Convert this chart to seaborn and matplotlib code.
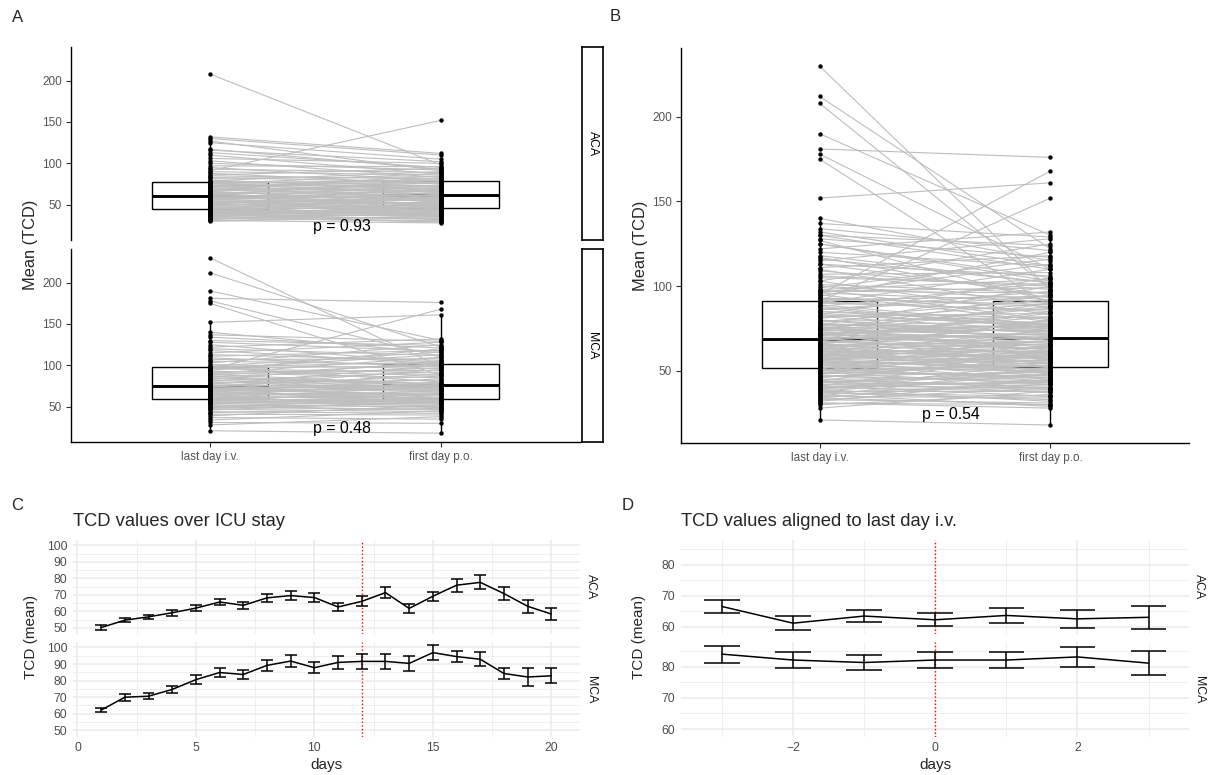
import matplotlib
matplotlib.use("Agg")
import numpy as np
import pandas as pd
import matplotlib.pyplot as plt
import seaborn as sns

sns.set_theme(style="white")
plt.rcParams["font.family"] = ["Liberation Sans", "DejaVu Sans"]

# ---------------------------------------------------------------- data
timepoints = ["last day i.v.", "first day p.o."]
arteries = ["ACA", "MCA"]

# paired TCD means per patient (same index = same patient)
aca_iv = [30, 31, 32, 33, 33, 34, 35, 35, 36, 37,
          37, 38, 38, 39, 39, 40, 40, 41, 41, 42,
          42, 43, 43, 44, 44, 45, 45, 46, 47, 47,
          48, 49, 50, 50, 51, 52, 52, 53, 54, 54,
          55, 56, 56, 57, 57, 58, 58, 59, 59, 60,
          60, 61, 62, 62, 63, 64, 64, 65, 66, 66,
          67, 68, 69, 69, 70, 71, 72, 72, 73, 74,
          75, 75, 76, 77, 77, 78, 79, 80, 82, 83,
          85, 86, 88, 90, 91, 93, 95, 97, 100, 103,
          106, 110, 113, 116, 117, 125, 127, 130, 132, 208]
aca_po = [36, 28, 45, 31, 40, 30, 52, 34, 29, 42,
          33, 48, 38, 55, 32, 44, 38, 60, 35, 43,
          39, 50, 41, 37, 62, 46, 40, 57, 49, 43,
          65, 42, 53, 46, 71, 44, 59, 51, 45, 56,
          47, 68, 52, 61, 49, 74, 55, 58, 62, 50,
          64, 59, 80, 57, 66, 48, 70, 61, 77, 54,
          72, 60, 85, 63, 67, 82, 65, 78, 69, 74,
          88, 71, 62, 76, 79, 73, 90, 68, 84, 77,
          81, 94, 75, 86, 152, 89, 79, 96, 92, 83,
          100, 87, 95, 102, 93, 105, 91, 110, 112, 98]
mca_iv = [21, 28, 31, 34, 37, 39, 41, 43, 44, 46,
          47, 48, 49, 50, 51, 52, 53, 54, 55, 55,
          56, 57, 57, 58, 59, 59, 60, 61, 62, 63,
          63, 64, 65, 66, 66, 67, 68, 69, 69, 70,
          71, 71, 72, 72, 73, 74, 74, 75, 75, 75,
          76, 77, 78, 79, 80, 81, 82, 83, 84, 85,
          86, 87, 88, 89, 90, 91, 92, 93, 94, 95,
          96, 96, 97, 98, 98, 99, 101, 103, 105, 107,
          109, 111, 113, 115, 118, 120, 122, 125, 128, 130,
          134, 137, 140, 152, 175, 178, 181, 190, 212, 230]
mca_po = [18, 38, 30, 45, 35, 52, 40, 48, 42, 57,
          44, 55, 47, 61, 46, 50, 65, 49, 58, 53,
          51, 70, 54, 59, 56, 66, 55, 74, 62, 58,
          80, 57, 67, 60, 77, 63, 84, 59, 72, 65,
          70, 90, 64, 75, 68, 95, 71, 61, 76, 87,
          73, 100, 69, 82, 72, 92, 74, 105, 76, 78,
          97, 75, 102, 77, 110, 85, 94, 88, 120, 168,
          91, 113, 99, 80, 104, 116, 96, 125, 101, 108,
          98, 118, 106, 128, 102, 112, 132, 103, 117, 124,
          121, 129, 115, 161, 88, 110, 176, 130, 122, 98]

p_aca = "p = 0.93"
p_mca = "p = 0.48"
p_all = "p = 0.54"

# daily means over the ICU stay (mean and standard error)
icu_days = [1, 2, 3, 4, 5, 6, 7, 8, 9, 10, 11, 12, 13, 14, 15, 16, 17, 18, 19, 20]
icu_aca_mean = [50.2, 54.7, 56.7, 59.2, 62.0, 65.7, 63.7, 68.2, 69.6, 68.4,
                62.7, 66.1, 71.4, 61.8, 69.2, 75.9, 77.6, 70.8, 63.1, 58.4]
icu_aca_se = [1.3, 1.4, 1.4, 1.8, 1.9, 2.0, 2.2, 2.6, 2.6, 2.5,
              2.4, 3.0, 3.1, 2.5, 2.6, 4.0, 4.3, 3.8, 3.9, 3.7]
icu_mca_mean = [62.2, 70.0, 70.6, 74.7, 80.6, 84.9, 83.7, 89.2, 91.8, 87.8,
                91.0, 91.6, 91.6, 90.4, 96.9, 94.5, 92.9, 84.3, 82.2, 82.9]
icu_mca_se = [1.2, 2.0, 1.8, 2.0, 2.5, 2.8, 2.8, 3.2, 3.5, 3.4,
              3.7, 4.3, 4.3, 4.6, 4.6, 3.4, 4.2, 3.6, 5.2, 4.6]
icu_switch_day = 12

# means aligned to the last i.v. day
aligned_days = [-3, -2, -1, 0, 1, 2, 3]
aligned_aca_mean = [66.5, 61.1, 63.4, 62.2, 63.6, 62.5, 63.0]
aligned_aca_se = [2.2, 2.2, 2.0, 2.05, 2.4, 2.9, 3.8]
aligned_mca_mean = [84.1, 82.2, 81.4, 82.2, 82.2, 83.2, 81.2]
aligned_mca_se = [2.75, 2.5, 2.4, 2.6, 2.7, 3.3, 3.8]
aligned_switch_day = 0

# ---------------------------------------------------------------- figure
W, H = 1216, 775
fig = plt.figure(figsize=(W / 100, H / 100), dpi=100)
fig.patch.set_facecolor("white")


def add_ax(x0, y0, x1, y1):
    return fig.add_axes([x0 / W, 1 - y1 / H, (x1 - x0) / W, (y1 - y0) / H])


def fig_text(x, y, s, **kw):
    fig.text(x / W, 1 - y / H, s, **kw)


def paired_frame(iv, po, artery):
    n = len(iv)
    ids = [f"{artery}{i}" for i in range(n)]
    return pd.DataFrame({
        "pid": ids + ids,
        "pos": [0] * n + [1] * n,
        "value": list(iv) + list(po),
        "artery": artery,
    })


def paired_panel(ax, df, p_label, show_x):
    sns.boxplot(data=df, x="pos", y="value", orient="x", native_scale=True,
                width=0.5, color="white", linecolor="black", linewidth=1.0,
                showfliers=False, showcaps=False,
                medianprops={"linewidth": 2.1}, ax=ax)
    sns.lineplot(data=df, x="pos", y="value", units="pid", estimator=None,
                 color="#BEBEBE", linewidth=0.8, sort=False, ax=ax, zorder=3)
    sns.scatterplot(data=df, x="pos", y="value", color="black", s=10,
                    linewidth=0, ax=ax, zorder=4)
    ax.text(0.57, 24, p_label, ha="center", va="center", fontsize=11.4,
            color="black", zorder=5)
    ax.set_xlim(-0.6, 1.6)
    ax.set_ylim(7.4, 240.6)
    ax.set_yticks([50, 100, 150, 200])
    ax.set_xlabel("")
    ax.set_ylabel("")
    for side in ("top", "right"):
        ax.spines[side].set_visible(False)
    ax.spines["left"].set_linewidth(1.0)
    ax.spines["left"].set_color("black")
    ax.tick_params(axis="y", left=True, length=3.5, width=0.8, color="#333333",
                   labelsize=8.5, labelcolor="#555555", pad=3)
    if show_x:
        ax.spines["bottom"].set_linewidth(1.0)
        ax.spines["bottom"].set_color("black")
        ax.set_xticks([0, 1])
        ax.set_xticklabels(timepoints)
        ax.tick_params(axis="x", bottom=True, length=3.5, width=0.8,
                       color="#333333", labelsize=8.5, labelcolor="#555555", pad=3)
    else:
        ax.spines["bottom"].set_visible(False)
        ax.set_xticks([])
    ax.set_facecolor("white")


def strip_box(ax, label):
    ax.set_xticks([])
    ax.set_yticks([])
    for s in ax.spines.values():
        s.set_visible(True)
        s.set_color("black")
        s.set_linewidth(1.2)
    ax.set_facecolor("white")
    ax.text(0.5, 0.5, label, rotation=270, ha="center", va="center",
            fontsize=8.8, color="black", transform=ax.transAxes)


def trend_panel(ax, days, mean, se, switch, strip, xlim, ylim,
                xmajor, xminor, ymajor, yminor, show_x, strip_x):
    days = np.asarray(days, dtype=float)
    mean = np.asarray(mean, dtype=float)
    se = np.asarray(se, dtype=float)
    ax.set_axisbelow(True)
    ax.set_xlim(*xlim)
    ax.set_ylim(*ylim)
    ax.set_xticks(xmajor)
    ax.set_xticks(xminor, minor=True)
    ax.set_yticks(ymajor)
    ax.set_yticks(yminor, minor=True)
    ax.grid(which="major", color="#EBEBEB", linewidth=1.1)
    ax.grid(which="minor", color="#EBEBEB", linewidth=0.55)
    ax.axvline(switch, color="red", linestyle=(0, (1, 1.6)), linewidth=1.0, zorder=2)
    sns.lineplot(x=days, y=mean, color="black", linewidth=1.1, ax=ax, zorder=3)
    ax.vlines(days, mean - se, mean + se, color="black", linewidth=1.1, zorder=3)
    ax.hlines(mean - se, days - 0.25, days + 0.25, color="black", linewidth=1.1, zorder=3)
    ax.hlines(mean + se, days - 0.25, days + 0.25, color="black", linewidth=1.1, zorder=3)
    for s in ax.spines.values():
        s.set_visible(False)
    ax.tick_params(which="both", length=0, labelsize=8.8, labelcolor="#4D4D4D", pad=4)
    if not show_x:
        ax.tick_params(labelbottom=False)
    ax.set_xlabel("")
    ax.set_ylabel("")
    ax.text(strip_x, 0.5, strip, rotation=270, ha="center", va="center",
            fontsize=8.8, color="#1A1A1A", transform=ax.transAxes)


aca_df = paired_frame(aca_iv, aca_po, "ACA")
mca_df = paired_frame(mca_iv, mca_po, "MCA")
all_df = pd.concat([aca_df, mca_df], ignore_index=True)

# ---- A: paired values faceted by artery
ax_a1 = add_ax(71, 47, 580, 240)
ax_a2 = add_ax(71, 249, 580, 442)
paired_panel(ax_a1, aca_df, p_aca, show_x=False)
paired_panel(ax_a2, mca_df, p_mca, show_x=True)
strip_box(add_ax(582, 47, 603, 240), "ACA")
strip_box(add_ax(582, 249, 603, 442), "MCA")
fig_text(31, 245, "Mean (TCD)", rotation=90, ha="center", va="center", fontsize=11.8)

# ---- B: both arteries pooled
ax_b = add_ax(681, 48, 1189, 443)
paired_panel(ax_b, all_df, p_all, show_x=True)
fig_text(641, 245.5, "Mean (TCD)", rotation=90, ha="center", va="center", fontsize=11.8)

# ---- C: course over the ICU stay
c_kw = dict(xlim=(-0.2, 21.2), ylim=(46.3, 103.3),
            xmajor=[0, 5, 10, 15, 20], xminor=[2.5, 7.5, 12.5, 17.5],
            ymajor=[50, 60, 70, 80, 90, 100], yminor=[55, 65, 75, 85, 95],
            strip_x=1.022)
ax_c1 = add_ax(72.7, 540, 579.8, 634)
ax_c2 = add_ax(72.7, 642, 579.8, 736.5)
trend_panel(ax_c1, icu_days, icu_aca_mean, icu_aca_se, icu_switch_day, "ACA",
            show_x=False, **c_kw)
trend_panel(ax_c2, icu_days, icu_mca_mean, icu_mca_se, icu_switch_day, "MCA",
            show_x=True, **c_kw)
fig_text(72.7, 521.7, "TCD values over ICU stay", ha="left", va="center", fontsize=13.2)
fig_text(30.6, 637, "TCD (mean)", rotation=90, ha="center", va="center", fontsize=11)
fig_text(326, 765, "days", ha="center", va="center", fontsize=11)

# ---- D: aligned to the switch day
d_kw = dict(xlim=(-3.575, 3.575), ylim=(57.6, 88.0),
            xmajor=[-2, 0, 2], xminor=[-3, -1, 1, 3],
            ymajor=[60, 70, 80], yminor=[65, 75, 85],
            strip_x=1.019)
ax_d1 = add_ax(681, 540, 1189.4, 634)
ax_d2 = add_ax(681, 642, 1189.4, 736.5)
trend_panel(ax_d1, aligned_days, aligned_aca_mean, aligned_aca_se, aligned_switch_day,
            "ACA", show_x=False, **d_kw)
trend_panel(ax_d2, aligned_days, aligned_mca_mean, aligned_mca_se, aligned_switch_day,
            "MCA", show_x=True, **d_kw)
fig_text(681, 521.7, "TCD values aligned to last day i.v.", ha="left", va="center",
         fontsize=13.2)
fig_text(639, 637, "TCD (mean)", rotation=90, ha="center", va="center", fontsize=11)
fig_text(935, 765, "days", ha="center", va="center", fontsize=11)

# ---- panel letters
for letter, (lx, ly) in {"A": (18, 17.5), "B": (615.5, 16.3),
                         "C": (17.6, 505.5), "D": (627.5, 505)}.items():
    fig_text(lx, ly, letter, ha="center", va="center", fontsize=12)

fig.savefig("out.png", dpi=100, facecolor="white")
